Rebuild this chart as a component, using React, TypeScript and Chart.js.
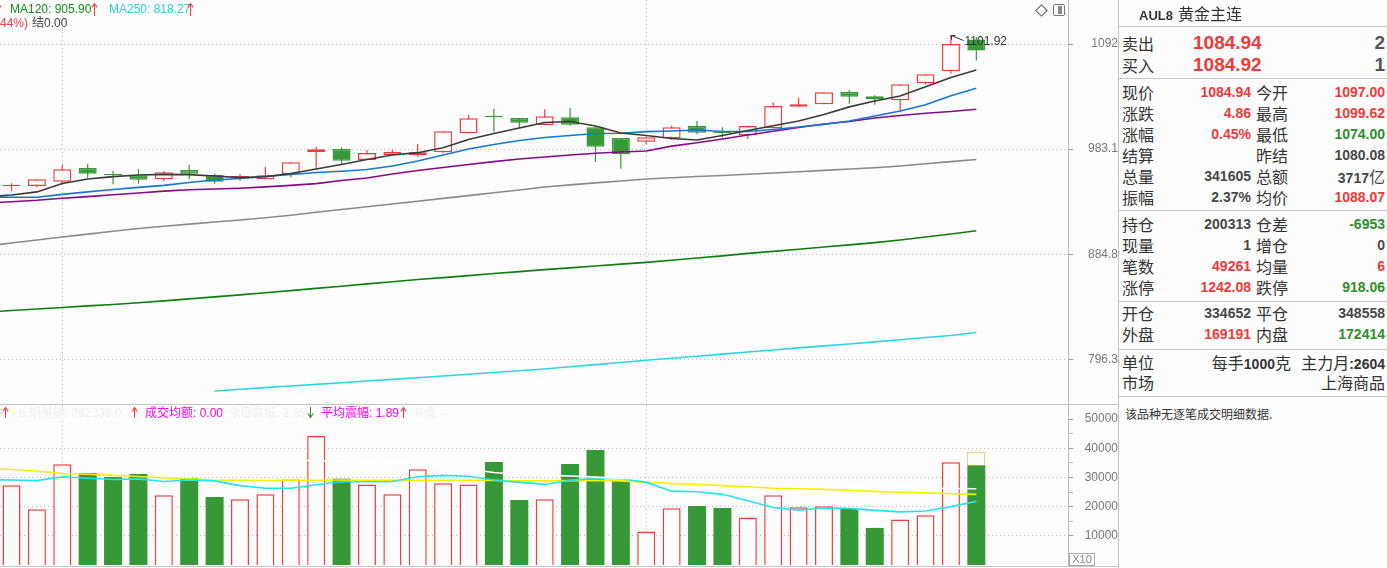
import React, { useEffect, useRef } from 'react';
import { Chart, registerables } from 'chart.js';

Chart.register(...registerables);

const BG = '#fdfdfd';
const RED = '#f03c3c';
const GREEN = '#379837';
const TXT_RED = '#ee3a3a';
const TXT_GREEN = '#2e8e2e';
const TXT_DARK = '#474747';
const LINE_GRAY = '#c4c4c4';
const FAINT = '#f1f1f1';
const NUM_FONT = '"Liberation Sans", Arial, sans-serif';
const CJK_FONT = '"Noto Sans CJK SC", "Liberation Sans", sans-serif';
const MIX_FONT = '"Liberation Sans", Arial, "Noto Sans CJK SC", sans-serif';

// ---------------- candles (one per trading day) ----------------
const opens = [947.2, 947.37, 951.45, 964.59, 957.9, 957.57, 953.74, 962.66, 957.86, 955.5, 953.74, 958.53, 979.86, 983.1, 972.3, 976.93, 976.93, 979.86, 998.66, 1014.9, 1014.07, 1006.99, 1014.78, 1004.68, 993.98, 990.31, 993.68, 1006.29, 998.8, 996.67, 1003.67, 1025.6, 1028.07, 1040.8, 1036.33, 1032.19, 1049.9, 1062.58, 1097.0];
const highs = [949.93, 953.74, 967.49, 968.46, 961.7, 963.62, 961.7, 967.78, 959.11, 958.53, 965.55, 970.1, 985.37, 984.78, 982.12, 982.42, 988.03, 1000.67, 1017.12, 1023.55, 1014.07, 1022.94, 1024.27, 1004.68, 993.98, 994.68, 1006.29, 1011.03, 1004.68, 1005.99, 1030.13, 1034.88, 1040.48, 1042.88, 1037.37, 1048.85, 1059.39, 1101.92, 1099.62];
const lows = [942.93, 946.14, 948.98, 955.27, 948.98, 949.55, 952.12, 954.03, 949.55, 952.41, 953.74, 955.65, 963.33, 967.49, 972.3, 976.93, 975.56, 978.89, 998.66, 1000.27, 1003.67, 1006.99, 1006.29, 970.4, 963.91, 987.74, 992.29, 997.97, 994.68, 992.99, 1003.67, 1025.6, 1028.07, 1028.68, 1027.66, 1019.87, 1048.43, 1060.03, 1074.0];
const closes = [947.4, 953.74, 963.33, 959.11, 957.7, 953.36, 960.45, 959.11, 951.45, 955.65, 957.57, 970.1, 982.81, 971.66, 979.18, 980.16, 979.86, 1000.67, 1013.77, 1014.78, 1009.31, 1015.8, 1007.3, 985.37, 977.91, 994.68, 1004.68, 999.27, 998.66, 1005.99, 1026.32, 1028.07, 1040.48, 1035.92, 1033.22, 1048.85, 1059.39, 1092.0, 1084.94];

// volume (lots / 10)
const volumes = [27300, 19100, 34500, 31500, 30100, 31200, 23900, 29700, 23300, 22500, 24200, 29300, 44200, 29500, 27600, 24200, 32800, 28000, 27600, 35300, 22300, 22500, 34600, 39400, 28900, 11500, 19400, 20200, 19500, 16300, 23900, 19800, 20100, 19200, 12700, 15600, 17000, 35200, 34200];
const lastVolumeEstimate = 38600;

// moving averages: first value belongs to the day before the first visible candle
const maIndex = Array.from({ length: 40 }, (_, i) => i - 1);
const ma5 = [937.0, 938.9, 941.8, 949.8, 954.1, 956.3, 957.9, 958.5, 958.2, 956.9, 955.3, 956.2, 959.3, 963.6, 968.0, 972.8, 977.2, 979.5, 984.4, 992.5, 998.5, 1004.0, 1009.5, 1010.5, 1006.0, 999.0, 996.5, 993.5, 992.0, 996.5, 1001.5, 1006.3, 1011.0, 1017.7, 1025.4, 1031.5, 1036.7, 1046.4, 1056.0, 1064.0];
const ma10 = [936.6, 936.8, 936.8, 939.5, 941.8, 944.1, 946.1, 948.0, 950.7, 953.1, 954.5, 956.5, 958.4, 960.3, 961.5, 963.2, 966.6, 971.3, 977.2, 983.1, 987.5, 991.5, 994.5, 996.5, 998.5, 998.7, 1000.3, 1001.0, 1002.0, 1000.5, 1000.5, 1002.5, 1005.0, 1007.6, 1011.0, 1016.1, 1021.2, 1027.7, 1037.0, 1044.7];
const ma20 = [931.4, 932.6, 933.9, 935.8, 937.4, 939.1, 940.8, 942.5, 943.8, 944.6, 945.3, 946.5, 948.0, 949.6, 952.6, 955.0, 958.8, 962.2, 965.1, 968.0, 970.8, 973.3, 975.2, 977.2, 978.9, 980.2, 981.1, 985.9, 989.3, 993.0, 997.0, 1000.7, 1004.5, 1008.0, 1010.5, 1014.1, 1016.6, 1018.9, 1020.7, 1023.0];
const ma60 = [892.2, 894.8, 897.5, 900.2, 902.8, 905.4, 908.0, 910.0, 911.9, 913.9, 915.7, 917.7, 920.1, 922.8, 925.4, 927.9, 930.5, 933.1, 935.7, 938.3, 941.0, 943.6, 946.5, 948.4, 950.3, 952.1, 954.1, 955.2, 956.4, 957.4, 958.6, 959.8, 961.0, 962.3, 963.6, 964.8, 966.5, 968.7, 970.8, 972.9];
const ma120 = [835.0, 836.4, 837.7, 838.9, 840.3, 841.5, 842.9, 844.5, 846.2, 847.9, 849.6, 851.4, 853.2, 855.1, 857.0, 859.0, 860.8, 862.7, 864.4, 866.1, 867.9, 869.6, 871.3, 872.9, 874.5, 876.1, 877.7, 879.6, 881.5, 883.4, 885.6, 887.4, 889.3, 891.3, 893.2, 895.2, 897.5, 900.2, 903.0, 905.9];
const ma250 = [null, null, null, null, null, null, null, null, null, 771.7, 773.0, 774.3, 775.6, 776.8, 778.1, 779.4, 780.7, 782.0, 783.4, 784.7, 786.1, 787.5, 788.9, 790.6, 792.3, 794.0, 795.8, 797.4, 799.0, 800.7, 802.4, 804.0, 805.7, 807.3, 808.9, 810.6, 812.3, 814.1, 815.8, 818.27];

const volMaYellow = [33000, 32700, 32200, 31300, 31100, 30700, 30300, 29800, 29500, 29000, 29000, 28950, 29000, 29050, 29100, 29050, 29000, 29050, 29000, 29000, 28950, 28800, 28800, 28900, 29000, 28800, 28300, 27900, 27600, 27200, 26800, 26300, 26100, 25900, 25600, 25200, 24900, 24700, 24400, 24200];
const volMaCyan = [29200, 29100, 28900, 30200, 29700, 29300, 29500, 28600, 29100, 28800, 27200, 26300, 26300, 27500, 28500, 28500, 28600, 30200, 30700, 30400, 29100, 28300, 27600, 29000, 29700, 29600, 28300, 25300, 25100, 24200, 22000, 19700, 18800, 19500, 19400, 18700, 18200, 18500, 20000, 21800];
const volMaWhite = [36300, 36300, 36200, 36200, 36100, 36100, 36000, 36000, 35900, 35900, 35900, 35800, 35800, 35800, 35600, 35300, 35000, 34500, 33800, 32800, 31700, 31000, 30700, 30500, 30100, 29700, 29400, 29100, 28800, 28500, 28200, 27900, 27600, 27400, 27100, 26900, 26600, 26400, 26200, 26100];

// axes
const priceTicks = [796.3, 884.8, 983.1, 1092];
const priceTickLabels = ['796.3', '884.8', '983.1', '1092'];
const volumeTicks = [10000, 20000, 30000, 40000, 50000];
const volumeTickLabels = ['10000', '20000', '30000', '40000', '50000'];
const volumeGridTicks = [10000, 20000, 30000, 40000];
const volumeMinorTicks = [15000, 25000, 35000, 45000];
const monthStartIndex = [2, 25];

const X_MIN = -0.4529;
const X_MAX = 41.611;
const P_MIN = 761.72;
const P_MAX = 1141.15;
const V_MAX = 54800;

// right panel text
const bookRows = [
  { label: '卖出', price: '1084.94', qty: '2', y: 43 },
  { label: '买入', price: '1084.92', qty: '1', y: 65 },
];
const quoteRows = [
  { l1: '现价', v1: '1084.94', c1: 'r', l2: '今开', v2: '1097.00', c2: 'r', y: 91.5 },
  { l1: '涨跌', v1: '4.86', c1: 'r', l2: '最高', v2: '1099.62', c2: 'r', y: 112.5 },
  { l1: '涨幅', v1: '0.45%', c1: 'r', l2: '最低', v2: '1074.00', c2: 'g', y: 133.5 },
  { l1: '结算', v1: '', c1: 'd', l2: '昨结', v2: '1080.08', c2: 'd', y: 154.5 },
  { l1: '总量', v1: '341605', c1: 'd', l2: '总额', v2: '3717', s2: '亿', c2: 'd', y: 175.5 },
  { l1: '振幅', v1: '2.37%', c1: 'd', l2: '均价', v2: '1088.07', c2: 'r', y: 196.5 },
  { l1: '持仓', v1: '200313', c1: 'd', l2: '仓差', v2: '-6953', c2: 'g', y: 223.5 },
  { l1: '现量', v1: '1', c1: 'd', l2: '增仓', v2: '0', c2: 'd', y: 245 },
  { l1: '笔数', v1: '49261', c1: 'r', l2: '均量', v2: '6', c2: 'r', y: 266 },
  { l1: '涨停', v1: '1242.08', c1: 'r', l2: '跌停', v2: '918.06', c2: 'g', y: 287 },
  { l1: '开仓', v1: '334652', c1: 'd', l2: '平仓', v2: '348558', c2: 'd', y: 313.3 },
  { l1: '外盘', v1: '169191', c1: 'r', l2: '内盘', v2: '172414', c2: 'g', y: 334.3 },
];
const panelLines = [26, 78, 210, 301, 349, 396];

const colorOf = (k: string) => (k === 'r' ? TXT_RED : k === 'g' ? TXT_GREEN : TXT_DARK);
const isUp = (i: number) => closes[i] >= opens[i];

const maLine = (values: (number | null)[], color: string, width = 1.6) => ({
  type: 'line',
  data: values.map((v, i) => ({ x: maIndex[i], y: v })),
  borderColor: color,
  borderWidth: width,
  pointRadius: 0,
  tension: 0,
  fill: false,
  spanGaps: false,
  clip: 0,
  order: 0,
});

const xScale = () => ({
  type: 'linear',
  min: X_MIN,
  max: X_MAX,
  offset: false,
  afterBuildTicks: (s: any) => {
    s.ticks = monthStartIndex.map((v) => ({ value: v }));
  },
  afterFit: (s: any) => {
    s.height = 0;
    s.paddingLeft = 0;
    s.paddingRight = 0;
  },
  ticks: { display: false },
  grid: { color: '#b8b8b8', lineWidth: 1, drawTicks: false, offset: false },
  border: { display: false, dash: [1, 3] },
});

const highMarker = {
  id: 'highMarker',
  afterDatasetsDraw(chart: any) {
    const { ctx, scales } = chart;
    let mi = 0;
    highs.forEach((h, i) => {
      if (h > highs[mi]) mi = i;
    });
    const px = Math.round(scales.x.getPixelForValue(mi)) + 0.5;
    const py = Math.round(scales.y.getPixelForValue(highs[mi])) + 0.5;
    ctx.save();
    ctx.strokeStyle = '#333';
    ctx.lineWidth = 1;
    ctx.beginPath();
    ctx.moveTo(px, py);
    ctx.lineTo(px + 4, py);
    ctx.moveTo(px, py);
    ctx.lineTo(px, py + 4);
    ctx.moveTo(px, py);
    ctx.lineTo(px + 12, py + 5);
    ctx.stroke();
    ctx.fillStyle = '#333';
    ctx.font = '12px "Liberation Sans", Arial, sans-serif';
    ctx.textBaseline = 'middle';
    ctx.fillText(highs[mi].toFixed(2), px + 13, py + 6);
    ctx.restore();
  },
};

const estimateBox = {
  id: 'estimateBox',
  afterDatasetsDraw(chart: any) {
    const { ctx, scales } = chart;
    const i = volumes.length - 1;
    const x = scales.x.getPixelForValue(i);
    const yTop = scales.y.getPixelForValue(lastVolumeEstimate);
    const yBot = scales.y.getPixelForValue(volumes[i]);
    ctx.save();
    ctx.setLineDash([1, 1]);
    ctx.strokeStyle = '#b4b400';
    ctx.lineWidth = 1;
    ctx.strokeRect(Math.round(x - 9) + 0.5, Math.round(yTop) + 0.5, 17, Math.round(yBot - yTop));
    ctx.restore();
  },
};

function priceConfig(): any {
  return {
    type: 'bar',
    data: {
      datasets: [
        maLine(ma5, '#3a3a3a'),
        maLine(ma10, '#1677d2'),
        maLine(ma20, '#850a85'),
        maLine(ma60, '#8a8a8a'),
        maLine(ma120, '#0c7f0c'),
        maLine(ma250, '#2cd5de'),
        {
          type: 'bar',
          data: opens.map((o, i) => ({ x: i, y: [o, closes[i]] })),
          backgroundColor: (c: any) => (isUp(c.dataIndex) ? BG : GREEN),
          borderColor: (c: any) => (isUp(c.dataIndex) ? RED : GREEN),
          borderWidth: 1.5,
          borderSkipped: false,
          barThickness: 18,
          minBarLength: 1.5,
          inflateAmount: 0,
          grouped: false,
          order: 1,
        },
        {
          type: 'bar',
          data: lows.map((l, i) => ({ x: i, y: [l, highs[i]] })),
          backgroundColor: (c: any) => (isUp(c.dataIndex) ? RED : GREEN),
          borderWidth: 0,
          barThickness: 1.2,
          inflateAmount: 0,
          grouped: false,
          order: 2,
        },
      ],
    },
    options: {
      responsive: false,
      maintainAspectRatio: false,
      animation: false,
      events: [],
      layout: { padding: 0, autoPadding: false },
      plugins: { legend: { display: false }, tooltip: { enabled: false } },
      scales: {
        x: xScale(),
        y: {
          type: 'logarithmic',
          position: 'right',
          min: P_MIN,
          max: P_MAX,
          afterBuildTicks: (s: any) => {
            s.ticks = priceTicks.map((v) => ({ value: v }));
          },
          afterFit: (s: any) => {
            s.width = 50;
            s.paddingTop = 0;
            s.paddingBottom = 0;
          },
          ticks: {
            callback: (_v: any, i: number) => priceTickLabels[i],
            color: '#777',
            font: { family: 'Liberation Sans', size: 12 },
            padding: 10,
            crossAlign: 'far',
            autoSkip: false,
          },
          grid: { color: '#b8b8b8', lineWidth: 1, drawTicks: true, tickLength: 5, tickColor: '#999', tickWidth: 1 },
          border: { display: true, color: '#bbbbbb', width: 1, dash: [1, 3] },
        },
      },
    },
    plugins: [highMarker],
  };
}

function volumeConfig(): any {
  return {
    type: 'bar',
    data: {
      datasets: [
        maLine(volMaWhite, '#ffffff'),
        maLine(volMaCyan, '#22e4ee'),
        maLine(volMaYellow, '#f2f200'),
        {
          type: 'bar',
          data: volumes.map((v, i) => ({ x: i, y: v })),
          backgroundColor: (c: any) => (isUp(c.dataIndex) ? BG : GREEN),
          borderColor: (c: any) => (isUp(c.dataIndex) ? RED : GREEN),
          borderWidth: (c: any) => (isUp(c.dataIndex) ? 1.5 : 0),
          borderSkipped: 'start',
          barThickness: 18,
          inflateAmount: 0,
          grouped: false,
          order: 1,
        },
      ],
    },
    options: {
      responsive: false,
      maintainAspectRatio: false,
      animation: false,
      events: [],
      layout: { padding: { left: 0, right: 0, top: 0, bottom: 3 }, autoPadding: false },
      plugins: { legend: { display: false }, tooltip: { enabled: false } },
      scales: {
        x: xScale(),
        y: {
          type: 'linear',
          position: 'right',
          min: 0,
          max: V_MAX,
          afterBuildTicks: (s: any) => {
            s.ticks = [...volumeTicks, ...volumeMinorTicks].sort((a, b) => a - b).map((v) => ({ value: v }));
          },
          afterFit: (s: any) => {
            s.width = 50;
            s.paddingTop = 0;
            s.paddingBottom = 0;
          },
          ticks: {
            callback: (v: any) => {
              const k = volumeTicks.indexOf(Number(v));
              return k >= 0 ? volumeTickLabels[k] : '';
            },
            color: '#777',
            font: { family: 'Liberation Sans', size: 12 },
            padding: 7,
            crossAlign: 'far',
            autoSkip: false,
          },
          grid: {
            color: (c: any) => (c.tick && volumeGridTicks.includes(c.tick.value) ? '#b8b8b8' : 'rgba(0,0,0,0)'),
            lineWidth: 1,
            drawTicks: true,
            tickLength: 5,
            tickColor: (c: any) => (c.tick && volumeMinorTicks.includes(c.tick.value) ? '#b0b0b0' : '#999'),
          },
          border: { display: true, color: '#bbbbbb', width: 1, dash: [1, 3] },
        },
      },
    },
    plugins: [estimateBox],
  };
}

function Arrow({ left, top, color, down = false, h = 13 }: any) {
  const d = down
    ? `M3.5 0 V${h - 1} M0.8 ${h - 4.5} L3.5 ${h - 0.5} L6.2 ${h - 4.5}`
    : `M3.5 1 V${h} M0.8 4.5 L3.5 0.5 L6.2 4.5`;
  return (
    <svg style={{ position: 'absolute', left, top }} width={7} height={h} viewBox={`0 0 7 ${h}`}>
      <path d={d} stroke={color} strokeWidth={1.1} fill="none" />
    </svg>
  );
}

const abs = (s: any) => ({ position: 'absolute' as const, whiteSpace: 'nowrap' as const, ...s });

export default function App() {
  const priceRef = useRef<HTMLCanvasElement>(null);
  const volRef = useRef<HTMLCanvasElement>(null);

  useEffect(() => {
    const pc = new Chart(priceRef.current as HTMLCanvasElement, priceConfig());
    const vc = new Chart(volRef.current as HTMLCanvasElement, volumeConfig());
    return () => {
      pc.destroy();
      vc.destroy();
    };
  }, []);

  const label = (text: string, left: number, y: number) => (
    <div style={abs({ left, top: y - 10, lineHeight: '20px', fontSize: 16, fontFamily: CJK_FONT, color: '#333' })}>{text}</div>
  );
  const value = (text: string, right: number, y: number, color: string, suffix?: string) => (
    <div style={abs({ right, top: y - 10, lineHeight: '20px', fontSize: 14, fontWeight: 700, fontFamily: NUM_FONT, color, textAlign: 'right' })}>
      {text}
      {suffix ? <span style={{ fontFamily: CJK_FONT, fontWeight: 400, fontSize: 16 }}>{suffix}</span> : null}
    </div>
  );

  return (
    <div style={{ position: 'absolute', left: 0, top: 0, width: 1387, height: 568, background: BG, overflow: 'hidden', fontFamily: MIX_FONT }}>
      <canvas ref={priceRef} width={1118} height={404} style={{ position: 'absolute', left: 0, top: 0, width: 1118, height: 404 }} />
      <canvas ref={volRef} width={1118} height={163} style={{ position: 'absolute', left: 0, top: 405, width: 1118, height: 163 }} />

      {/* separators */}
      <div style={abs({ left: 0, top: 404, width: 1118, height: 1, background: LINE_GRAY })} />
      <div style={abs({ left: 0, top: 566, width: 1118, height: 1, background: LINE_GRAY })} />
      <div style={abs({ left: 1118, top: 0, width: 1, height: 568, background: LINE_GRAY })} />

      {/* price pane header */}
      <Arrow left={-5} top={3} color={RED} />
      <div style={abs({ left: 10, top: 2, fontSize: 12, lineHeight: '14px', color: '#138f13' })}>MA120: 905.90</div>
      <Arrow left={91} top={3} color={RED} />
      <div style={abs({ left: 109, top: 2, fontSize: 12, lineHeight: '14px', color: '#26d0d8' })}>MA250: 818.27</div>
      <Arrow left={187} top={3} color={RED} />
      <div style={abs({ left: 0, top: 16, fontSize: 12, lineHeight: '14px', color: RED })}>44%)</div>
      <div style={abs({ left: 32, top: 16, fontSize: 12, lineHeight: '14px', color: '#444' })}>结0.00</div>

      {/* top-right icons */}
      <div style={abs({ left: 1037, top: 6, width: 7, height: 7, border: '1px solid #555', transform: 'rotate(45deg)' })} />
      <div style={abs({ left: 1053, top: 4, width: 10, height: 10, border: '1px solid #777', borderRadius: 2 })} />
      <div style={abs({ left: 1058, top: 6, width: 4, height: 8, background: '#888' })} />

      {/* volume pane header */}
      <div style={abs({ left: 0, top: 409, width: 2, height: 1, background: '#e0e000' })} />
      <div style={abs({ left: 0, top: 413, width: 2, height: 1, background: '#e0e000' })} />
      <Arrow left={2} top={407} color={RED} h={11} />
      <div style={abs({ left: 17, top: 406, fontSize: 12, lineHeight: '14px', color: FAINT })}>长期星能: 262336.0</div>
      <Arrow left={131} top={407} color={RED} h={11} />
      <div style={abs({ left: 145, top: 406, fontSize: 12, lineHeight: '14px', color: '#ff00ff' })}>成交均额: 0.00</div>
      <div style={abs({ left: 228, top: 406, fontSize: 12, lineHeight: '14px', color: FAINT })}>今日震幅: 2.35</div>
      <Arrow left={307} top={407} color={TXT_GREEN} down h={11} />
      <div style={abs({ left: 321, top: 406, fontSize: 12, lineHeight: '14px', color: '#ff00ff' })}>平均震幅: 1.89</div>
      <Arrow left={400} top={407} color={RED} h={11} />
      <div style={abs({ left: 415, top: 406, fontSize: 12, lineHeight: '14px', color: FAINT })}>R值: -</div>

      {/* X10 box */}
      <div style={abs({ left: 1069, top: 553, width: 24, height: 11, border: '1px solid #aaa', fontSize: 11, lineHeight: '11px', color: '#888', textAlign: 'center', fontFamily: NUM_FONT })}>X10</div>

      {/* right info panel */}
      {panelLines.map((y) => (
        <div key={y} style={abs({ left: 1119, top: y, width: 268, height: 1, background: LINE_GRAY })} />
      ))}
      <div style={abs({ left: 1139, top: 3, lineHeight: '20px', color: '#333' })}>
        <span style={{ fontFamily: NUM_FONT, fontWeight: 700, fontSize: 13 }}>AUL8</span>
        <span style={{ fontFamily: CJK_FONT, fontSize: 16, marginLeft: 5 }}>黄金主连</span>
      </div>
      {bookRows.map((r) => (
        <React.Fragment key={r.label}>
          {label(r.label, 1122, r.y)}
          <div style={abs({ left: 1193, top: r.y - 11, lineHeight: '22px', fontSize: 19, fontWeight: 700, fontFamily: NUM_FONT, color: TXT_RED })}>{r.price}</div>
          <div style={abs({ right: 2, top: r.y - 11, lineHeight: '22px', fontSize: 19, fontWeight: 700, fontFamily: NUM_FONT, color: '#555' })}>{r.qty}</div>
        </React.Fragment>
      ))}
      {quoteRows.map((r: any) => (
        <React.Fragment key={r.l1}>
          {label(r.l1, 1122, r.y)}
          {r.v1 ? value(r.v1, 136, r.y, colorOf(r.c1)) : null}
          {label(r.l2, 1256, r.y)}
          {value(r.v2, 2, r.y, colorOf(r.c2), r.s2)}
        </React.Fragment>
      ))}
      {label('单位', 1122, 361.7)}
      <div style={abs({ right: 96, top: 351.7, lineHeight: '20px', fontSize: 16, fontFamily: CJK_FONT, color: '#333' })}>
        每手<span style={{ fontFamily: NUM_FONT, fontWeight: 700, fontSize: 14 }}>1000</span>克
      </div>
      <div style={abs({ right: 2, top: 351.7, lineHeight: '20px', fontSize: 16, fontFamily: CJK_FONT, color: '#333' })}>
        主力月<span style={{ fontFamily: NUM_FONT, fontWeight: 700, fontSize: 14 }}>:2604</span>
      </div>
      {label('市场', 1122, 382.3)}
      <div style={abs({ right: 2, top: 372.3, lineHeight: '20px', fontSize: 16, fontFamily: CJK_FONT, color: '#333' })}>上海商品</div>
      <div style={abs({ left: 1125, top: 406, lineHeight: '16px', fontSize: 12, fontFamily: CJK_FONT, color: '#333' })}>该品种无逐笔成交明细数据.</div>
    </div>
  );
}
